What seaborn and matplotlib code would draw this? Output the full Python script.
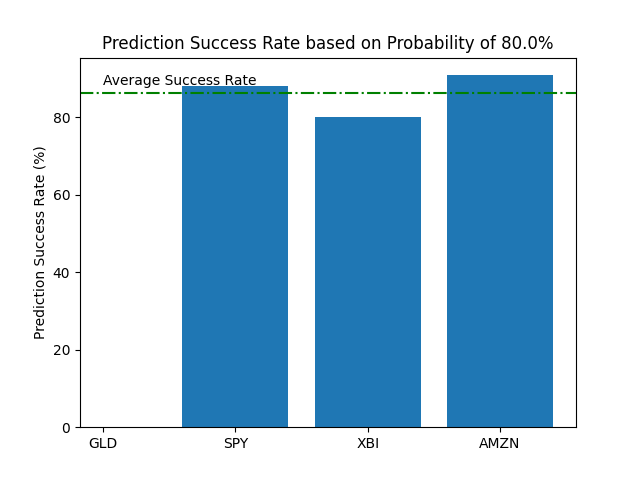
import matplotlib
matplotlib.use('Agg')
import matplotlib.pyplot as plt
import seaborn as sns
import pandas as pd

# Values
tickers = ['GLD', 'SPY', 'XBI', 'AMZN']
success_rates = [0.0, 88.24, 80.0, 90.91]
probability = 80.0

df = pd.DataFrame({'ticker': tickers, 'rate': success_rates})

# Average over tickers that actually had predictions
nonzero = [r for r in success_rates if r > 0]
avg_rate = sum(nonzero) / len(nonzero)

fig, ax = plt.subplots(figsize=(6.4, 4.8), dpi=100)
sns.barplot(data=df, x='ticker', y='rate', color='#1f77b4', saturation=1,
            width=0.8, ax=ax)

ax.axhline(avg_rate, color='green', linestyle='-.')
ax.text(0, avg_rate + 2, 'Average Success Rate')

ax.set_xlim(-0.174, 3.574)
ax.set_ylim(0, max(success_rates) * 1.05)
ax.set_xlabel('')
ax.set_ylabel('Prediction Success Rate (%)')
ax.set_title(f'Prediction Success Rate based on Probability of {probability}%')

plt.savefig('out.png')
plt.close()
